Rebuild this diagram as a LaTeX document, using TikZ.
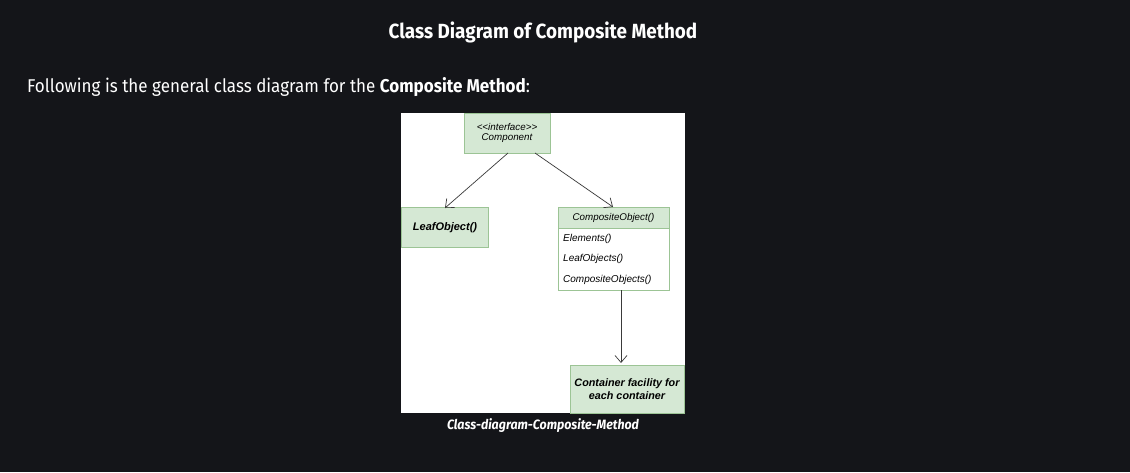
\documentclass[tikz,border=0pt]{standalone}
\usepackage{fontspec}
\setmainfont{Liberation Sans}
\newfontfamily\din[FakeStretch=0.92]{Fira Sans}
\usetikzlibrary{arrows.meta}
\definecolor{bg}{HTML}{141519}
\definecolor{gfill}{HTML}{D5E8D4}
\definecolor{gdraw}{HTML}{9CC495}
\definecolor{arr}{HTML}{3A3A3A}
\tikzset{
  cls/.style={draw=gdraw, fill=gfill, line width=0.7pt, inner sep=0pt},
  conn/.style={draw=arr, line width=0.7pt, -{Straight Barb[length=7pt,width=12pt]}},
  txt/.style={inner sep=0pt, font=\fontsize{9.8}{10}\selectfont\itshape},
  mem/.style={inner sep=0pt, anchor=west, font=\fontsize{10}{10}\selectfont\itshape},
}
\begin{document}
\begin{tikzpicture}[x=1pt,y=-1pt]
\fill[bg] (0,0) rectangle (1130,472);
\useasboundingbox (0,0) rectangle (1130,472);
% page text
\node[text=white, font=\din\bfseries\fontsize{20.5}{22}\selectfont, inner sep=0pt] (title) at (543,32) {Class Diagram of Composite Method};
\node[text=white, font=\din\fontsize{18.5}{20}\selectfont, inner sep=0pt, anchor=west] (intro) at (27,87) {Following is the general class diagram for the \textbf{Composite Method}:};
% panel
\fill[white] (401,113) rectangle (685,413);
% boxes
\draw[cls] (464,113) rectangle (550,153);
\node[txt, align=center] (comp) at (507,133) {\fontsize{9.8}{11.5}\selectfont <\kern0pt<interface>\kern0pt>\\ Component};
\draw[cls] (401,207) rectangle (488,247);
\node[txt, font=\fontsize{11}{12}\selectfont\bfseries\itshape] (leaf) at (445,228) {LeafObject()};
\draw[draw=gdraw, fill=white, line width=0.7pt] (558,207) rectangle (669,290);
\draw[cls] (558,207) rectangle (669,228);
\node[txt] (cobj) at (613.5,218) {CompositeObject()};
\node[mem] (el) at (563,238.5) {Elements()};
\node[mem] (lo) at (563,259) {LeafObjects()};
\node[mem] (co) at (563,279.5) {CompositeObjects()};
\draw[cls] (570,365) rectangle (684,413);
\node[txt, align=center, font=\fontsize{10.8}{13}\selectfont\bfseries\itshape] (cont) at (627,389.5) {Container facility for\\each container};
% anchor coordinates
\coordinate (c1) at (508,153);
\coordinate (l1) at (445,208);
\coordinate (c2) at (535,153);
\coordinate (o1) at (613,207);
\coordinate (o2) at (621,290);
\coordinate (t1) at (621,363);
\draw[conn] (c1) -- (l1);
\draw[conn] (c2) -- (o1);
\draw[conn] (o2) -- (t1);
% caption
\node[text=white, font=\din\bfseries\itshape\fontsize{13.5}{15}\selectfont, inner sep=0pt] (cap) at (543,426) {Class-diagram-Composite-Method};
\end{tikzpicture}
\end{document}
